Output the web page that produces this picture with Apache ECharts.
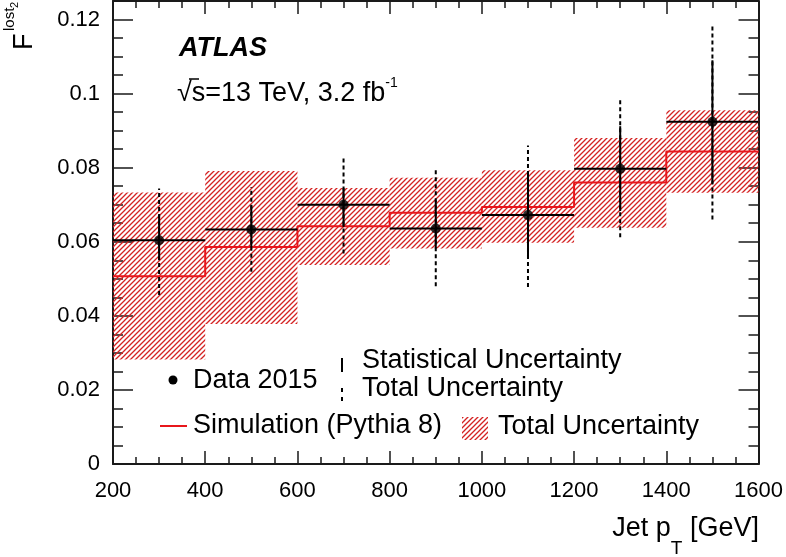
<!DOCTYPE html>
<html lang="en">
<head>
    <meta charset="UTF-8">
    <script src="https://cdn.jsdelivr.net/npm/echarts@6/dist/echarts.min.js"></script>
    <title>F lost2 vs jet pT</title>
    <style>
        html, body { margin: 0; padding: 0; background: #fff; }
        #main { width: 786px; height: 557px; }
    </style>
</head>
<body>
<div id="main"></div>
<script>
    // bins in jet pT [GeV]
    var binLow = [200, 400, 600, 800, 1000, 1200, 1400];
    var binHigh = [400, 600, 800, 1000, 1200, 1400, 1600];
    var binCenter = [300, 500, 700, 900, 1100, 1300, 1500];

    // data 2015
    var dataValue = [0.0604, 0.0633, 0.0700, 0.0636, 0.0672, 0.0797, 0.0924];
    var statLow = [0.0550, 0.0586, 0.0640, 0.0582, 0.0555, 0.0683, 0.0757];
    var statHigh = [0.0672, 0.0698, 0.0745, 0.0712, 0.0788, 0.0912, 0.1090];
    var totalLow = [0.0456, 0.0519, 0.0568, 0.0480, 0.0478, 0.0612, 0.0660];
    var totalHigh = [0.0744, 0.0748, 0.0833, 0.0796, 0.0860, 0.0983, 0.1181];

    // simulation (pythia 8) and its total uncertainty band
    var simValue = [0.0507, 0.0586, 0.0642, 0.0678, 0.0694, 0.0760, 0.0844];
    var simBandLow = [0.0282, 0.0378, 0.0537, 0.0582, 0.0597, 0.0638, 0.0732];
    var simBandHigh = [0.0733, 0.0791, 0.0745, 0.0773, 0.0793, 0.0880, 0.0955];

    var FONT = '"Liberation Sans", Arial, Helvetica, sans-serif';
    var AXIS = '#1a1a1a';
    var RED = '#e8161b';

    // hatch pattern ////
    function makeHatch() {
        var c = document.createElement('canvas');
        c.width = 5; c.height = 5;
        var g = c.getContext('2d');
        g.strokeStyle = '#d42222';
        g.lineWidth = 1.3;
        g.beginPath();
        g.moveTo(0, 5); g.lineTo(5, 0);
        g.moveTo(-1, 1); g.lineTo(1, -1);
        g.moveTo(4, 6); g.lineTo(6, 4);
        g.stroke();
        return c;
    }
    var hatch = { image: makeHatch(), repeat: 'repeat' };

    var chart = echarts.init(document.getElementById('main'));

    var bandData = binLow.map(function (lo, i) { return [lo, binHigh[i], simBandLow[i], simBandHigh[i]]; });
    var simLine = binLow.map(function (lo, i) { return [lo, simValue[i]]; });
    simLine.push([binHigh[binHigh.length - 1], simValue[simValue.length - 1]]);
    var errData = binCenter.map(function (x, i) {
        return [x, dataValue[i], statLow[i], statHigh[i], totalLow[i], totalHigh[i], binLow[i], binHigh[i]];
    });
    var pointData = binCenter.map(function (x, i) { return [x, dataValue[i]]; });

    function xAxisCfg(pos) {
        return {
            type: 'value', position: pos, min: 200, max: 1600, interval: 200,
            axisLine: { onZero: false, lineStyle: { color: AXIS, width: 2 } },
            axisTick: { inside: true, length: 13, lineStyle: { color: AXIS, width: 1.5 } },
            minorTick: { show: true, splitNumber: 4, length: 7, lineStyle: { color: AXIS, width: 1.5 } },
            splitLine: { show: false },
            axisLabel: {
                show: pos === 'bottom', fontSize: 22, color: '#000', fontFamily: FONT, margin: 16,
                formatter: function (v) { return String(v); }
            }
        };
    }
    function yAxisCfg(pos, step, len, labels) {
        return {
            type: 'value', position: pos, min: 0, max: 0.125, interval: step,
            axisLine: { show: step === 0.02, onZero: false, lineStyle: { color: AXIS, width: 2 } },
            axisTick: { inside: true, length: len, lineStyle: { color: AXIS, width: 1.5 } },
            splitLine: { show: false },
            axisLabel: {
                show: labels, fontSize: 22, color: '#000', fontFamily: FONT, margin: 13,
                padding: [4, 0, 0, 0],
                formatter: function (v) { return v > 0.1201 ? '' : String(+v.toFixed(3)); }
            }
        };
    }

    var option = {
        animation: false,
        grid: { left: 113, right: 27, top: 1, bottom: 93 },
        xAxis: [xAxisCfg('bottom'), xAxisCfg('top')],
        yAxis: [
            yAxisCfg('left', 0.02, 20, true),
            yAxisCfg('right', 0.02, 20, false),
            yAxisCfg('left', 0.005, 10, false),
            yAxisCfg('right', 0.005, 10, false)
        ],
        series: [
            {
                name: 'band', type: 'custom', z: 1,
                renderItem: function (params, api) {
                    var p1 = api.coord([api.value(0), api.value(3)]);
                    var p2 = api.coord([api.value(1), api.value(2)]);
                    return {
                        type: 'rect',
                        shape: { x: p1[0], y: p1[1], width: p2[0] - p1[0], height: p2[1] - p1[1] },
                        style: { fill: hatch }
                    };
                },
                encode: { x: [0, 1], y: [2, 3] },
                data: bandData
            },
            {
                name: 'sim', type: 'line', step: 'end', z: 2,
                symbol: 'none',
                lineStyle: { color: RED, width: 2 },
                data: simLine
            },
            {
                name: 'errors', type: 'custom', z: 3,
                renderItem: function (params, api) {
                    var x = api.value(0);
                    var sLo = api.coord([x, api.value(2)]), sHi = api.coord([x, api.value(3)]);
                    var tLo = api.coord([x, api.value(4)]), tHi = api.coord([x, api.value(5)]);
                    var l = api.coord([api.value(6), api.value(1)]), r = api.coord([api.value(7), api.value(1)]);
                    return {
                        type: 'group',
                        children: [
                            { type: 'line', shape: { x1: tLo[0], y1: tLo[1], x2: tHi[0], y2: tHi[1] },
                              style: { stroke: '#000', lineWidth: 2, lineDash: [4, 3] } },
                            { type: 'line', shape: { x1: sLo[0], y1: sLo[1], x2: sHi[0], y2: sHi[1] },
                              style: { stroke: '#000', lineWidth: 2 } },
                            { type: 'line', shape: { x1: l[0], y1: l[1], x2: r[0], y2: r[1] },
                              style: { stroke: '#000', lineWidth: 2 } }
                        ]
                    };
                },
                encode: { x: 0, y: [1, 2, 3, 4, 5] },
                data: errData
            },
            {
                name: 'Data 2015', type: 'scatter', z: 4,
                symbol: 'circle', symbolSize: 10,
                itemStyle: { color: '#000' },
                data: pointData
            }
        ],
        graphic: [
            // y axis title F^{lost_2}, reads bottom to top
            { type: 'text', x: 25, y: 50, rotation: Math.PI / 2,
              style: { text: 'F', font: '27px ' + FONT, fill: '#000', verticalAlign: 'middle' } },
            { type: 'text', x: 9.5, y: 31, rotation: Math.PI / 2,
              style: { text: 'lost', font: '15px ' + FONT, fill: '#000', verticalAlign: 'middle' } },
            { type: 'text', x: 15, y: 8, rotation: Math.PI / 2,
              style: { text: '2', font: '11px ' + FONT, fill: '#000', verticalAlign: 'middle' } },
            // x axis title
            {
                type: 'text', x: 759, y: 529,
                style: {
                    text: '{m|Jet p}{s|T}{m| [GeV]}', align: 'right', verticalAlign: 'middle', fill: '#000',
                    rich: {
                        m: { fontSize: 27, fontFamily: FONT, lineHeight: 58 },
                        s: { fontSize: 19, fontFamily: FONT, lineHeight: 20, verticalAlign: 'bottom' }
                    }
                }
            },
            {
                type: 'text', x: 179, y: 49,
                style: { text: 'ATLAS', font: 'italic bold 27px ' + FONT, fill: '#000', verticalAlign: 'middle' }
            },
            {
                type: 'text', x: 177, y: 94,
                style: {
                    text: '{m|√s=13 TeV, 3.2 fb}{u|-1}', align: 'left', verticalAlign: 'middle', fill: '#000',
                    rich: {
                        m: { fontSize: 27, fontFamily: FONT, lineHeight: 36 },
                        u: { fontSize: 14, fontFamily: FONT, lineHeight: 14, verticalAlign: 'top' }
                    }
                }
            },
            // overbar of the square root
            { type: 'line', shape: { x1: 189, y1: 79, x2: 199, y2: 79 }, style: { stroke: '#000', lineWidth: 1.5 } },
            // legend
            { type: 'circle', shape: { cx: 173, cy: 380, r: 4.5 }, style: { fill: '#000' } },
            { type: 'text', x: 193, y: 381, style: { text: 'Data 2015', font: '27px ' + FONT, fill: '#000', verticalAlign: 'middle' } },
            { type: 'line', shape: { x1: 342, y1: 358, x2: 342, y2: 372 }, style: { stroke: '#000', lineWidth: 2 } },
            { type: 'line', shape: { x1: 342, y1: 388, x2: 342, y2: 402 }, style: { stroke: '#000', lineWidth: 2, lineDash: [4, 5] } },
            { type: 'text', x: 362, y: 361, style: { text: 'Statistical Uncertainty', font: '27px ' + FONT, fill: '#000', verticalAlign: 'middle' } },
            { type: 'text', x: 362, y: 389, style: { text: 'Total Uncertainty', font: '27px ' + FONT, fill: '#000', verticalAlign: 'middle' } },
            { type: 'line', shape: { x1: 160, y1: 426, x2: 187, y2: 426 }, style: { stroke: RED, lineWidth: 2 } },
            { type: 'text', x: 193, y: 426, style: { text: 'Simulation (Pythia 8)', font: '27px ' + FONT, fill: '#000', verticalAlign: 'middle' } },
            { type: 'rect', shape: { x: 462, y: 417, width: 26, height: 23 }, style: { fill: hatch } },
            { type: 'text', x: 498, y: 427, style: { text: 'Total Uncertainty', font: '27px ' + FONT, fill: '#000', verticalAlign: 'middle' } }
        ]
    };
    chart.setOption(option);
</script>
</body>
</html>
